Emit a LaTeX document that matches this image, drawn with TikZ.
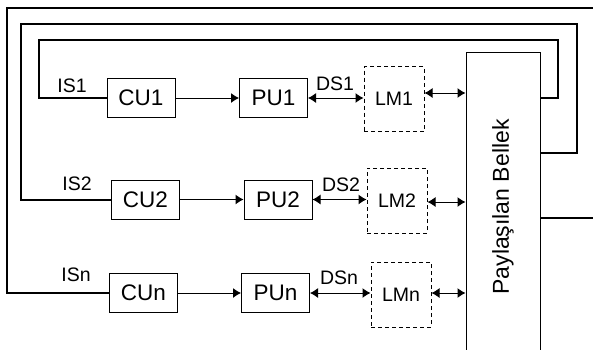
\documentclass[tikz,border=0pt]{standalone}
\usepackage{fontspec}
\setmainfont{Liberation Sans}
\usetikzlibrary{arrows.meta, positioning}

\begin{document}
\begin{tikzpicture}[x=1pt, y=-1pt, >={Latex[length=8pt,width=10pt]},
  unit/.style={draw, line width=1pt, minimum width=68pt, minimum height=39pt, inner sep=0pt, font=\fontsize{22.5}{26}\selectfont},
  lmem/.style={draw, line width=1pt, dash pattern=on 4pt off 3pt, minimum width=60pt, minimum height=65pt, inner sep=0pt, font=\fontsize{19.5}{22}\selectfont},
  shmem/.style={draw, line width=1pt, minimum width=74pt, minimum height=310pt, inner sep=0pt, font=\fontsize{23}{26}\selectfont},
  sig/.style={inner sep=0pt, font=\fontsize{19.5}{22}\selectfont},
  link/.style={line width=1pt},
  bus/.style={line width=2pt}]
\useasboundingbox (0,0) rectangle (593,349);
\clip (0,0) rectangle (593,349);
%
\node[shmem] (Bellek) at (503,207) {\rotatebox{90}{Paylaşılan Bellek}};
%
\node[unit] (CU1) at (141,98) {CU1};
\node[unit] (PU1) at (273.5,98) {PU1};
\node[lmem] (LM1) at (394,99) {LM1};
\node[sig] (IS1) at (72,86) {IS1};
\node[sig] (DS1) at (335,84) {DS1};
%
\node[unit] (CU2) at (145.5,199.5) {CU2};
\node[unit] (PU2) at (278,199.5) {PU2};
\node[lmem] (LM2) at (397,200.5) {LM2};
\node[sig] (IS2) at (77,184) {IS2};
\node[sig] (DS2) at (341,185) {DS2};
%
\node[unit] (CUn) at (143.5,293) {CUn};
\node[unit] (PUn) at (275.5,293) {PUn};
\node[lmem] (LMn) at (401,294.5) {LMn};
\node[sig] (ISn) at (76,275) {ISn};
\node[sig] (DSn) at (339,278) {DSn};
%
\draw[link, ->] (CU1) -- (PU1);
\draw[link, <->] (PU1.east) -- (LM1.west |- PU1.east);
\draw[link, <->] ([yshift=6pt]LM1.east) -- ([yshift=6pt]LM1.east -| Bellek.west);
\draw[link, ->] (CU2) -- (PU2);
\draw[link, <->] (PU2.east) -- (LM2.west |- PU2.east);
\draw[link, <->] ([yshift=-1.5pt]LM2.east) -- ([yshift=-1.5pt]LM2.east -| Bellek.west);
\draw[link, ->] (CUn) -- (PUn);
\draw[link, <->] (PUn.east) -- (LMn.west |- PUn.east);
\draw[link, <->] ([yshift=1.5pt]LMn.east) -- ([yshift=1.5pt]LMn.east -| Bellek.west);
%
\draw[bus] (CU1.west) -| (39,40) -| (558,98) -- (Bellek.east |- 558,98);
\draw[bus] (CU2.west) -| (21,24) -| (577,153) -- (Bellek.east |- 577,153);
\draw[bus] (CUn.west) -| (7,8) -- (600,8);
\draw[bus] (Bellek.east |- 0,218) -- (600,218);
\end{tikzpicture}
\end{document}
